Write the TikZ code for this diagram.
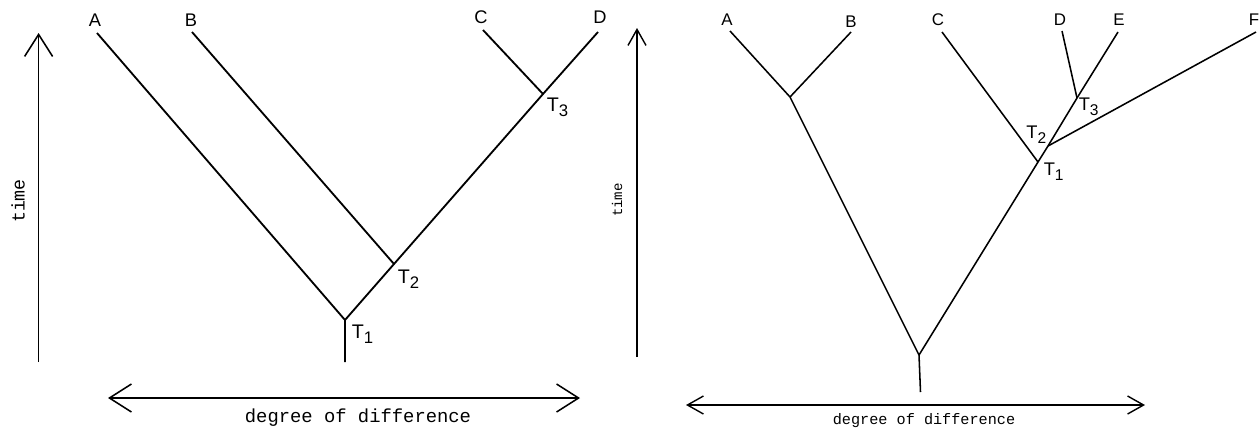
\documentclass[tikz,border=0pt]{standalone}
\usepackage{fontspec}
\setmainfont{Liberation Sans}
\setmonofont{Liberation Mono}
\usetikzlibrary{arrows.meta}
\newcommand{\tname}[1]{T\raisebox{-0.5ex}{\scalebox{0.85}{#1}}}

\begin{document}
\begin{tikzpicture}[x=0.025cm,y=-0.025cm,line width=1.3pt]
\tikzset{leaf/.style={font=\fontsize{13}{15}\selectfont,inner sep=0pt},
  tlabel/.style={font=\fontsize{14}{16}\selectfont,inner sep=0pt},
  caption/.style={font=\ttfamily\fontsize{13.4}{15}\selectfont,inner sep=0pt},
  bigbarb/.tip={Straight Barb[length=5.5mm,width=7mm,line width=1.1pt]},
  smallbarb/.tip={Straight Barb[length=4mm,width=4.5mm,line width=1pt]}}
\useasboundingbox (0,0) rectangle (1260,430);

% ---------- first tree ----------
\begin{scope}
\coordinate (a1) at (97,33);
\coordinate (b1) at (192,32);
\coordinate (c1) at (483,30);
\coordinate (d1) at (598,32);
\coordinate (t1) at (345,320);
\coordinate (t2) at (394,264);
\coordinate (t3) at (543,94);
\coordinate (r1) at (345,362);

\draw (a1)--(t1);
\draw (b1)--(t2);
\draw (c1)--(t3);
\draw (d1)--(t3)--(t2)--(t1)--(r1);

\node[leaf] (la1) at (95,20) {A};
\node[leaf] (lb1) at (191,20) {B};
\node[leaf] (lc1) at (481,17) {C};
\node[leaf] (ld1) at (600,17) {D};
\node[tlabel,anchor=west] (lt1) at (351,334) {\tname{1}};
\node[tlabel,anchor=west] (lt2) at (397,279) {\tname{2}};
\node[tlabel,anchor=west] (lt3) at (546,107) {\tname{3}};

% axes
\coordinate (y0) at (38.6,362);
\coordinate (y1) at (38.6,33);
\coordinate (x0) at (108,398);
\coordinate (x1) at (580,398);
\draw[line width=1.1pt,-bigbarb] (y0)--(y1);
\draw[line width=1.1pt,bigbarb-bigbarb] (x0)--(x1);
\node[caption,font=\ttfamily\fontsize{13}{15}\selectfont,rotate=90] (time1) at (18,201) {time};
\node[caption] (deg1) at (358,418) {degree of difference};
\end{scope}

% ---------- second tree ----------
\begin{scope}[line width=1.1pt]
\coordinate (a2) at (730,31);
\coordinate (b2) at (851,32);
\coordinate (ab) at (790,97);
\coordinate (c2) at (942,32);
\coordinate (d2) at (1062,31);
\coordinate (e2) at (1118,32);
\coordinate (f2) at (1256,32);
\coordinate (s1) at (1038,162);
\coordinate (s2) at (1048,146);
\coordinate (s3) at (1077,98);
\coordinate (rt) at (919,355);
\coordinate (r2) at (920.5,392);

\draw (a2)--(ab);
\draw (b2)--(ab);
\draw (ab)--(rt);
\draw (c2)--(s1);
\draw (d2)--(s3);
\draw (f2)--(s2);
\draw (e2)--(s3)--(s2)--(s1)--(rt)--(r2);

\node[leaf,font=\fontsize{12}{14}\selectfont] (la2) at (727,20) {A};
\node[leaf,font=\fontsize{12}{14}\selectfont] (lb2) at (851,22) {B};
\node[leaf,font=\fontsize{12}{14}\selectfont] (lc2) at (938,20) {C};
\node[leaf,font=\fontsize{12}{14}\selectfont] (ld2) at (1060,20) {D};
\node[leaf,font=\fontsize{12}{14}\selectfont] (le2) at (1119,20) {E};
\node[leaf,font=\fontsize{12}{14}\selectfont] (lf2) at (1254,20) {F};
\node[tlabel,font=\fontsize{13}{15}\selectfont,anchor=west] (ls1) at (1043,172) {\tname{1}};
\node[tlabel,font=\fontsize{13}{15}\selectfont,anchor=east] (ls2) at (1047,135) {\tname{2}};
\node[tlabel,font=\fontsize{13}{15}\selectfont,anchor=west] (ls3) at (1078,107) {\tname{3}};

% axes
\coordinate (v0) at (637,357);
\coordinate (v1) at (637,28);
\coordinate (h0) at (686,405);
\coordinate (h1) at (1145,405);
\draw[line width=1pt,-smallbarb] (v0)--(v1);
\draw[line width=1pt,smallbarb-smallbarb] (h0)--(h1);
\node[caption,font=\ttfamily\fontsize{10}{12}\selectfont,rotate=90] (time2) at (617,200) {time};
\node[caption,font=\ttfamily\fontsize{10.8}{12}\selectfont] (deg2) at (924,421) {degree of difference};
\end{scope}

\end{tikzpicture}
\end{document}
